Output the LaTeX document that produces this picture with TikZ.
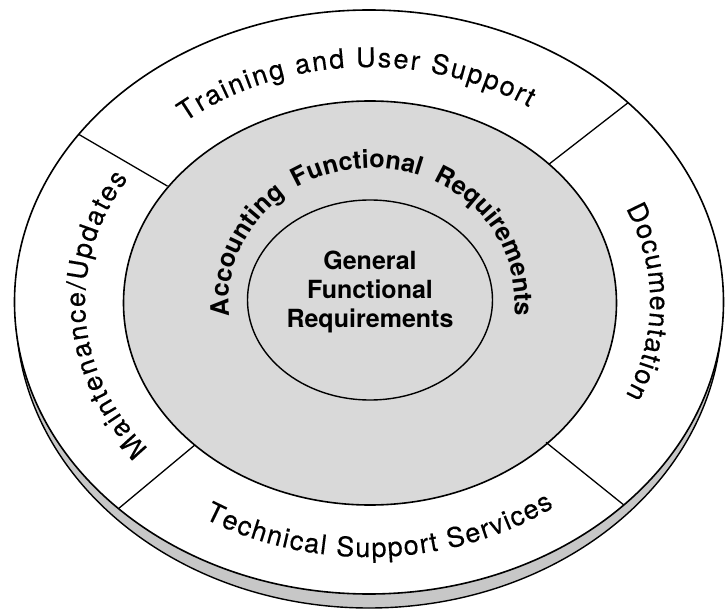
\documentclass[tikz,border=0pt]{standalone}
\usepackage{fontspec}
\setmainfont{TeX Gyre Heros}
\newfontfamily\bandfamily[FakeBold=0.3]{TeX Gyre Heros}
\usetikzlibrary{decorations.text}
\newcommand{\bandfont}{\bandfamily\fontsize{27}{27}\selectfont}
\newcommand{\ringfont}{\fontsize{25.3}{25.3}\selectfont\bfseries}
\newcommand{\centerfont}{\fontsize{25}{29}\selectfont\bfseries}
\definecolor{ringgrey}{gray}{0.85}
\definecolor{rimgrey}{gray}{0.78}
\tikzset{
  outline/.style={draw=black, line width=1.6pt},
  divider/.style={draw=black, line width=1.3pt},
  arctext/.style={decorate, decoration={text along path, text align=fit to path, text={#1}}},
  ringtext/.style={decorate, decoration={text along path, text align=fit to path stretching spaces, text={#1}}}
}
\begin{document}
\begin{tikzpicture}[x=1pt,y=1pt]
\useasboundingbox (-369,-308) rectangle (356,302);
% rim (thickness of the disc)
\path[fill=rimgrey, draw=black, line width=1.4pt] (0,-10) ellipse [x radius=353pt, y radius=296pt];
% top face
\path[fill=white, outline] (0,0) ellipse [x radius=354.5pt, y radius=292pt];
% grey ring
\path[fill=ringgrey, outline] (1,-1) ellipse [x radius=246.5pt, y radius=202pt];
% inner circle
\path[outline, line width=1.4pt] (1,2) ellipse [x radius=122.5pt, y radius=100pt];
% dividers
\draw[divider] (43:246pt and 202pt) -- (43:354pt and 292pt);
\draw[divider] (145:246pt and 202pt) -- (145:354pt and 292pt);
\draw[divider] (225:246pt and 202pt) -- (225:354pt and 292pt);
\draw[divider] (316:246pt and 202pt) -- (316:354pt and 292pt);
% band texts
\path[arctext={|\bandfont|Training and User Support}]
  (130:286pt and 235pt) arc[start angle=130, end angle=56, x radius=286pt, y radius=235pt];
\path[arctext={|\bandfont|Maintenance/Updates}]
  (219:284pt and 233pt) arc[start angle=219, end angle=148, x radius=284pt, y radius=233pt];
\path[arctext={|\bandfont|Documentation}]
  (24:281pt and 230pt) arc[start angle=24, end angle=-24, x radius=281pt, y radius=230pt];
\path[arctext={|\bandfont|Technical Support Services}]
  (238:311pt and 255pt) arc[start angle=238, end angle=306.5, x radius=311pt, y radius=255pt];
% ring text
\begin{scope}[xshift=3pt]
\path[ringtext={|\ringfont|Accounting Functional Requirements}]
  (186:143pt and 134pt) arc[start angle=186, end angle=-6, x radius=143pt, y radius=134pt];
\end{scope}
% centre
\node[align=center, font=\centerfont, inner sep=0pt] (general) at (1,10) {General\\Functional\\Requirements};
\end{tikzpicture}
\end{document}
